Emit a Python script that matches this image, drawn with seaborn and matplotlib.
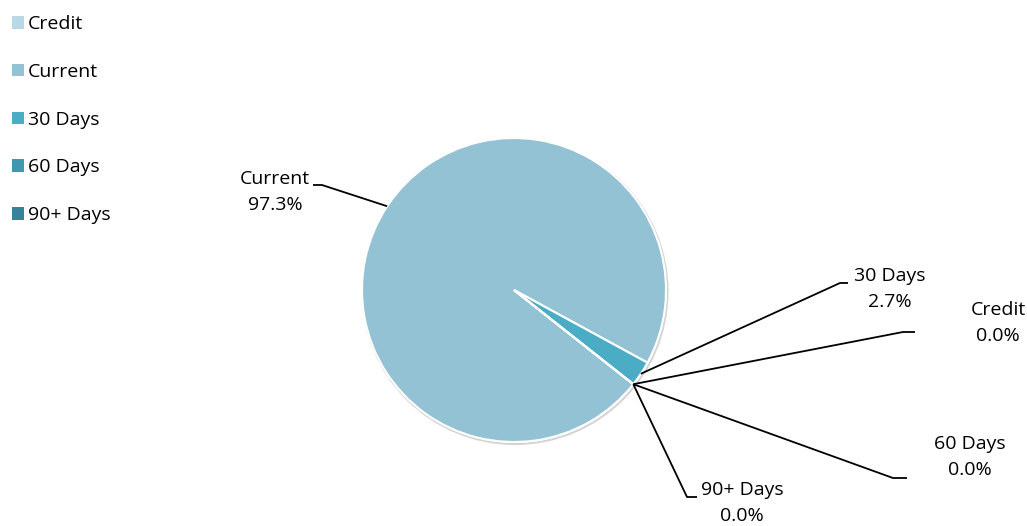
import seaborn as sns
import matplotlib.pyplot as plt
import numpy as np

# data
categories = ["Credit", "Current", "30 Days", "60 Days", "90+ Days"]
values = [0.0, 97.3, 2.7, 0.0, 0.0]
colors = ["#b9d8e7", "#93c2d4", "#4bacc6", "#3e98ae", "#35829a"]

sns.set_theme(style="white")
plt.rcParams['font.family'] = ['Open Sans', 'DejaVu Sans']
plt.rcParams['text.color'] = 'black'

W, H = 1027, 526
fig = plt.figure(figsize=(W / 100, H / 100), dpi=100)
ax = fig.add_axes([0, 0, 1, 1])

cx, cy, r = 514, H - 290, 152
wedges, _ = ax.pie(values, colors=colors, startangle=-38.3, counterclock=False,
                   center=(cx, cy), radius=r, frame=True,
                   wedgeprops=dict(edgecolor='white', linewidth=1.5))
ax.set_xlim(0, W)
ax.set_ylim(0, H)
ax.set_aspect('equal')
ax.axis('off')

# subtle rim shadow
rim = plt.Circle((cx + 1, cy - 1.5), r + 0.5, facecolor='none', edgecolor='#d4d4d4',
                 linewidth=1.5, zorder=0)
ax.add_patch(rim)

# label layout: (elbow x, elbow y, end x, text x, text y) in pixels from top
layout = {
    "Current": (322, 185, 313, 275, 192),
    "30 Days": (840, 283, 848, 890, 289),
    "Credit": (903, 332, 915, 998, 323),
    "60 Days": (893, 478, 907, 970, 457),
    "90+ Days": (687, 497, 697, 742, 503),
}

for w, cat, val in zip(wedges, categories, values):
    mid = np.deg2rad((w.theta1 + w.theta2) / 2)
    px, py = cx + r * np.cos(mid), cy + r * np.sin(mid)
    ex, ey, endx, tx, ty = layout[cat]
    ax.plot([px, ex, endx], [py, H - ey, H - ey], color='black', lw=1.3,
            solid_capstyle='butt', zorder=3)
    ax.text(tx, H - ty, f"{cat}\n{val:.1f}%", ha='center', va='center', fontsize=14,
            color='black', linespacing=1.55)

leg = ax.legend(wedges, categories, loc='upper left', bbox_to_anchor=(-0.007, 1.008),
                frameon=False, fontsize=14, handlelength=0.6, handleheight=0.6,
                handletextpad=0.2, labelspacing=1.53, borderpad=0.5)
for h in leg.legend_handles:
    h.set_edgecolor('none')
for t in leg.get_texts():
    t.set_color('black')

fig.savefig('out.png', dpi=100)
